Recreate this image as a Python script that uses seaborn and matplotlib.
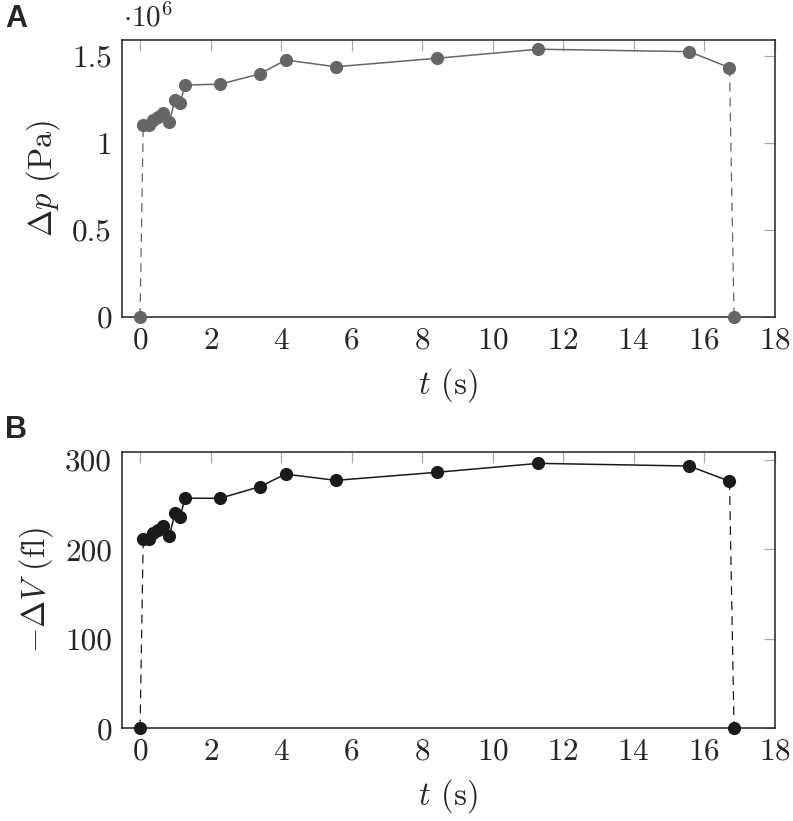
import numpy as np
import pandas as pd
import matplotlib
matplotlib.use("Agg")
import matplotlib.pyplot as plt
from matplotlib.ticker import FuncFormatter, MultipleLocator
import seaborn as sns

# values
t_s = [0.09, 0.24, 0.38, 0.52, 0.66, 0.83, 0.99, 1.13, 1.28, 2.27, 3.40,
       4.13, 5.55, 8.42, 11.30, 15.58, 16.72]
dp_1e6 = [1.103, 1.103, 1.132, 1.151, 1.171, 1.122, 1.247, 1.228, 1.333,
          1.338, 1.397, 1.477, 1.438, 1.487, 1.539, 1.525, 1.433]
dV_fl = [212, 212, 218, 222, 226, 215, 240, 236, 257, 257, 270, 284, 277,
         286, 296, 293, 276]
t_start = 0.0
t_end = 16.85
x_ticks = [0, 2, 4, 6, 8, 10, 12, 14, 16, 18]

sns.set_style("white")
plt.rcParams['font.family'] = ['cmr10', 'DejaVu Serif']
plt.rcParams['mathtext.fontset'] = 'cm'
plt.rcParams['axes.formatter.use_mathtext'] = True
plt.rcParams['axes.unicode_minus'] = False

df = pd.DataFrame({"t": t_s, "dp": dp_1e6, "dV": dV_fl})

fig = plt.figure(figsize=(7.93, 8.21), dpi=100)
ax_a = fig.add_axes([0.1535, 0.6139, 0.8233, 0.3374])
ax_b = fig.add_axes([0.1535, 0.1129, 0.8233, 0.3369])

panels = [
    (ax_a, "dp", "#666666", (0, 1.592), 0.5, r"$\Delta p$ (Pa)"),
    (ax_b, "dV", "#1a1a1a", (0, 309), 100, r"$-\Delta V$ (fl)"),
]

for ax, col, color, ylim, ystep, ylabel in panels:
    # dashed ramps from / to zero
    ramp_in = pd.DataFrame({"t": [t_start, df["t"].iloc[0]], "v": [0, df[col].iloc[0]]})
    ramp_out = pd.DataFrame({"t": [df["t"].iloc[-1], t_end], "v": [df[col].iloc[-1], 0]})
    for ramp in (ramp_in, ramp_out):
        sns.lineplot(data=ramp, x="t", y="v", ax=ax, color=color, lw=0.9,
                     linestyle=(0, (7, 5)), sort=False, zorder=2)
    sns.lineplot(data=df, x="t", y=col, ax=ax, color=color, lw=1.1,
                 marker="o", markersize=9.5, markeredgewidth=0, sort=False,
                 zorder=3)
    zeros = pd.DataFrame({"t": [t_start, t_end], "v": [0, 0]})
    sns.scatterplot(data=zeros, x="t", y="v", ax=ax, color=color, s=90,
                    linewidth=0, zorder=4, clip_on=False)

    ax.set_xlim(-0.52, 18)
    ax.set_ylim(*ylim)
    ax.set_xticks(x_ticks)
    ax.yaxis.set_major_locator(MultipleLocator(ystep))
    ax.yaxis.set_major_formatter(FuncFormatter(lambda v, p: f"{v:g}"))
    ax.tick_params(direction="in", length=8, width=0.9, color="#aaaaaa",
                   top=True, right=True, labelsize=22.5, pad=7)
    for sp in ax.spines.values():
        sp.set_color("#222222")
        sp.set_linewidth(1.1)
    ax.set_xlabel(r"$t$ (s)", fontsize=23.5, labelpad=8)
    ax.set_ylabel(ylabel, fontsize=23.5, labelpad=7)

fig.text(0.155, 0.968, r"$\cdot 10^{6}$", fontsize=21, ha="left", va="baseline")
fig.text(0.006, 0.967, "A", fontsize=22, fontweight="bold",
         family="Liberation Sans", ha="left", va="baseline")
fig.text(0.006, 0.466, "B", fontsize=22, fontweight="bold",
         family="Liberation Sans", ha="left", va="baseline")

fig.savefig("out.png", dpi=100)
